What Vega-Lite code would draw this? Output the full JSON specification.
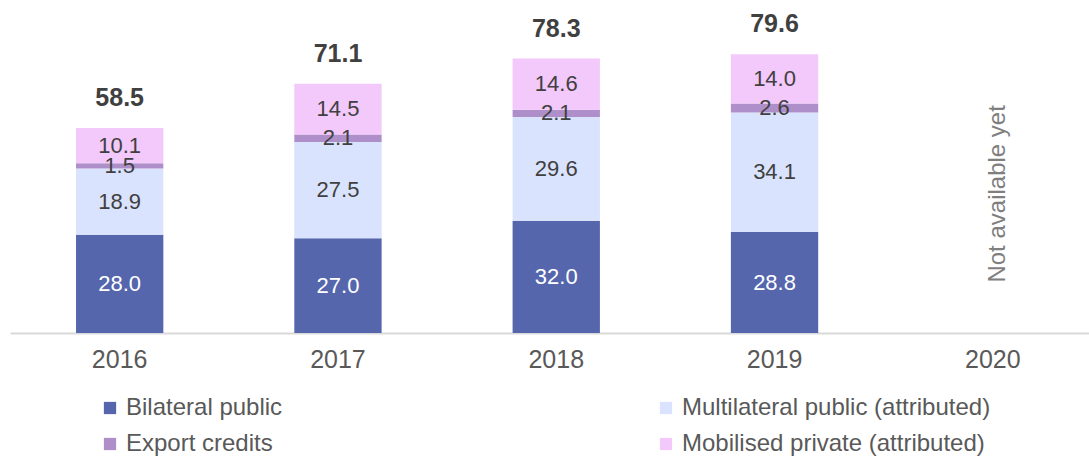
{
  "$schema": "https://vega.github.io/schema/vega-lite/v6.json",
  "autosize": "none",
  "width": 1079,
  "height": 333,
  "padding": {"left": 10, "top": 0, "right": 0, "bottom": 127},
  "background": "white",
  "config": {"view": {"stroke": null}, "font": "Liberation Sans"},
  "datasets": {
    "segs": [
      {"year": "2016", "series": "Bilateral public", "order": 1, "value": 28.0},
      {"year": "2016", "series": "Multilateral public (attributed)", "order": 2, "value": 18.9},
      {"year": "2016", "series": "Export credits", "order": 3, "value": 1.5},
      {"year": "2016", "series": "Mobilised private (attributed)", "order": 4, "value": 10.1},
      {"year": "2017", "series": "Bilateral public", "order": 1, "value": 27.0},
      {"year": "2017", "series": "Multilateral public (attributed)", "order": 2, "value": 27.5},
      {"year": "2017", "series": "Export credits", "order": 3, "value": 2.1},
      {"year": "2017", "series": "Mobilised private (attributed)", "order": 4, "value": 14.5},
      {"year": "2018", "series": "Bilateral public", "order": 1, "value": 32.0},
      {"year": "2018", "series": "Multilateral public (attributed)", "order": 2, "value": 29.6},
      {"year": "2018", "series": "Export credits", "order": 3, "value": 2.1},
      {"year": "2018", "series": "Mobilised private (attributed)", "order": 4, "value": 14.6},
      {"year": "2019", "series": "Bilateral public", "order": 1, "value": 28.8},
      {"year": "2019", "series": "Multilateral public (attributed)", "order": 2, "value": 34.1},
      {"year": "2019", "series": "Export credits", "order": 3, "value": 2.6},
      {"year": "2019", "series": "Mobilised private (attributed)", "order": 4, "value": 14.0}
    ],
    "totals": [
      {"year": "2016", "total": 58.5},
      {"year": "2017", "total": 71.1},
      {"year": "2018", "total": 78.3},
      {"year": "2019", "total": 79.6}
    ],
    "note": [
      {"year": "2020", "pos": 39.7, "text": "Not available yet"}
    ]
  },
  "encoding": {
    "x": {
      "field": "year",
      "type": "nominal",
      "scale": {"domain": ["2016", "2017", "2018", "2019", "2020"], "paddingInner": 0.6, "paddingOuter": 0.2715, "align": 0.557},
      "axis": {
        "title": null,
        "labelAngle": 0,
        "ticks": false,
        "domainColor": "#d9d9d9",
        "domainWidth": 2,
        "labelFont": "Liberation Sans",
        "labelFontSize": 25,
        "labelColor": "#595959",
        "labelPadding": 14
      }
    }
  },
  "layer": [
    {
      "data": {"name": "segs"},
      "transform": [
        {"stack": "value", "groupby": ["year"], "sort": [{"field": "order"}], "as": ["y0", "y1"]},
        {"calculate": "(datum.y0 + datum.y1) / 2", "as": "mid"}
      ],
      "layer": [
        {
          "mark": {"type": "bar"},
          "encoding": {
            "y": {"field": "y1", "type": "quantitative", "scale": {"domain": [0, 95], "nice": false, "zero": true}, "axis": null},
            "y2": {"field": "y0"},
            "color": {
              "field": "series",
              "type": "nominal",
              "scale": {
                "domain": ["Bilateral public", "Multilateral public (attributed)", "Export credits", "Mobilised private (attributed)"],
                "range": ["#5566ad", "#dae3fd", "#ae8fca", "#f3c8fa"]
              },
              "legend": {
                "title": null,
                "orient": "none",
                "legendX": 88,
                "legendY": 396,
                "columns": 2,
                "values": ["Bilateral public", "Export credits", "Multilateral public (attributed)", "Mobilised private (attributed)"],
                "columnPadding": 371,
                "rowPadding": 12,
                "symbolType": "square",
                "symbolSize": 150,
                "symbolStrokeWidth": 0,
                "labelFont": "Liberation Sans",
                "labelFontSize": 24,
                "labelColor": "#595959",
                "labelOffset": 4,
                "labelLimit": 500,
                "padding": 0
              }
            },
            "order": {"field": "order"}
          }
        },
        {
          "mark": {"type": "text", "baseline": "middle", "align": "center", "fontSize": 22, "font": "Liberation Sans"},
          "encoding": {
            "y": {"field": "mid", "type": "quantitative", "scale": {"domain": [0, 95], "nice": false}},
            "text": {"field": "value", "type": "quantitative", "format": ".1f"},
            "color": {
              "condition": {"test": "datum.series === 'Bilateral public'", "value": "white"},
              "value": "#404040"
            }
          }
        }
      ]
    },
    {
      "data": {"name": "totals"},
      "mark": {"type": "text", "baseline": "middle", "align": "center", "fontSize": 25, "fontWeight": "bold", "font": "Liberation Sans", "color": "#404040", "dy": -30},
      "encoding": {
        "y": {"field": "total", "type": "quantitative", "scale": {"domain": [0, 95], "nice": false}},
        "text": {"field": "total", "type": "quantitative", "format": ".1f"}
      }
    },
    {
      "data": {"name": "note"},
      "mark": {"type": "text", "baseline": "middle", "align": "center", "angle": 270, "fontSize": 24, "font": "Liberation Sans", "color": "#7f7f7f", "dy": 5},
      "encoding": {
        "y": {"field": "pos", "type": "quantitative", "scale": {"domain": [0, 95], "nice": false}},
        "text": {"field": "text", "type": "nominal"}
      }
    }
  ]
}
